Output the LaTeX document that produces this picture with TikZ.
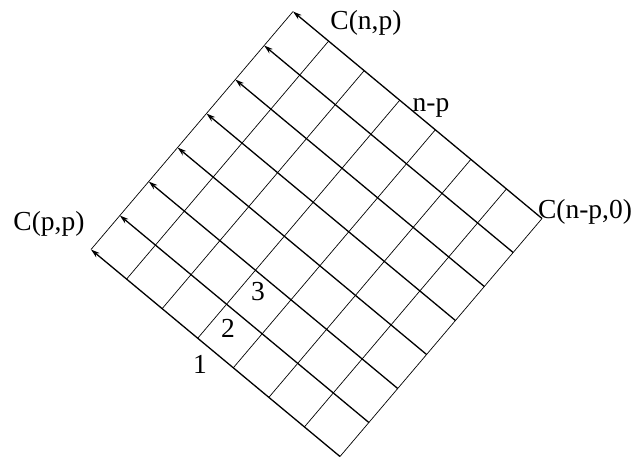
\documentclass[tikz,border=0pt]{standalone}
\usepackage{fontspec}
\setmainfont{Liberation Serif}
\usetikzlibrary{arrows.meta}
\begin{document}
\begin{tikzpicture}[x=1pt,y=-1pt,
  lbl/.style={inner sep=0pt,anchor=base,font=\fontsize{27.5}{30}\selectfont},
  thickline/.style={line width=1.3pt,-{Stealth[length=9pt,width=5.5pt]}},
  thinline/.style={line width=0.7pt}]
\useasboundingbox (0,0) rectangle (635,456);
\begin{scope}[shift={(340,456.5)},x={(28.86pt,34pt)},y={(-35.57pt,29.57pt)}]
  \foreach \j in {0,...,7} \draw[thinline] (0,\j) -- (7,\j);
  \foreach \i in {0,...,7} \draw[thickline] (\i,0) -- (\i,7);
\end{scope}
\node[lbl] (cnp) at (366,29) {C(n,p)};
\node[lbl] (np) at (431,111) {n-p};
\node[lbl] (cnp0) at (585,218) {C(n-p,0)};
\node[lbl] (cpp) at (49,230) {C(p,p)};
\node[lbl] (one) at (200,373) {1};
\node[lbl] (two) at (228,337) {2};
\node[lbl] (three) at (258,300) {3};
\end{tikzpicture}
\end{document}
